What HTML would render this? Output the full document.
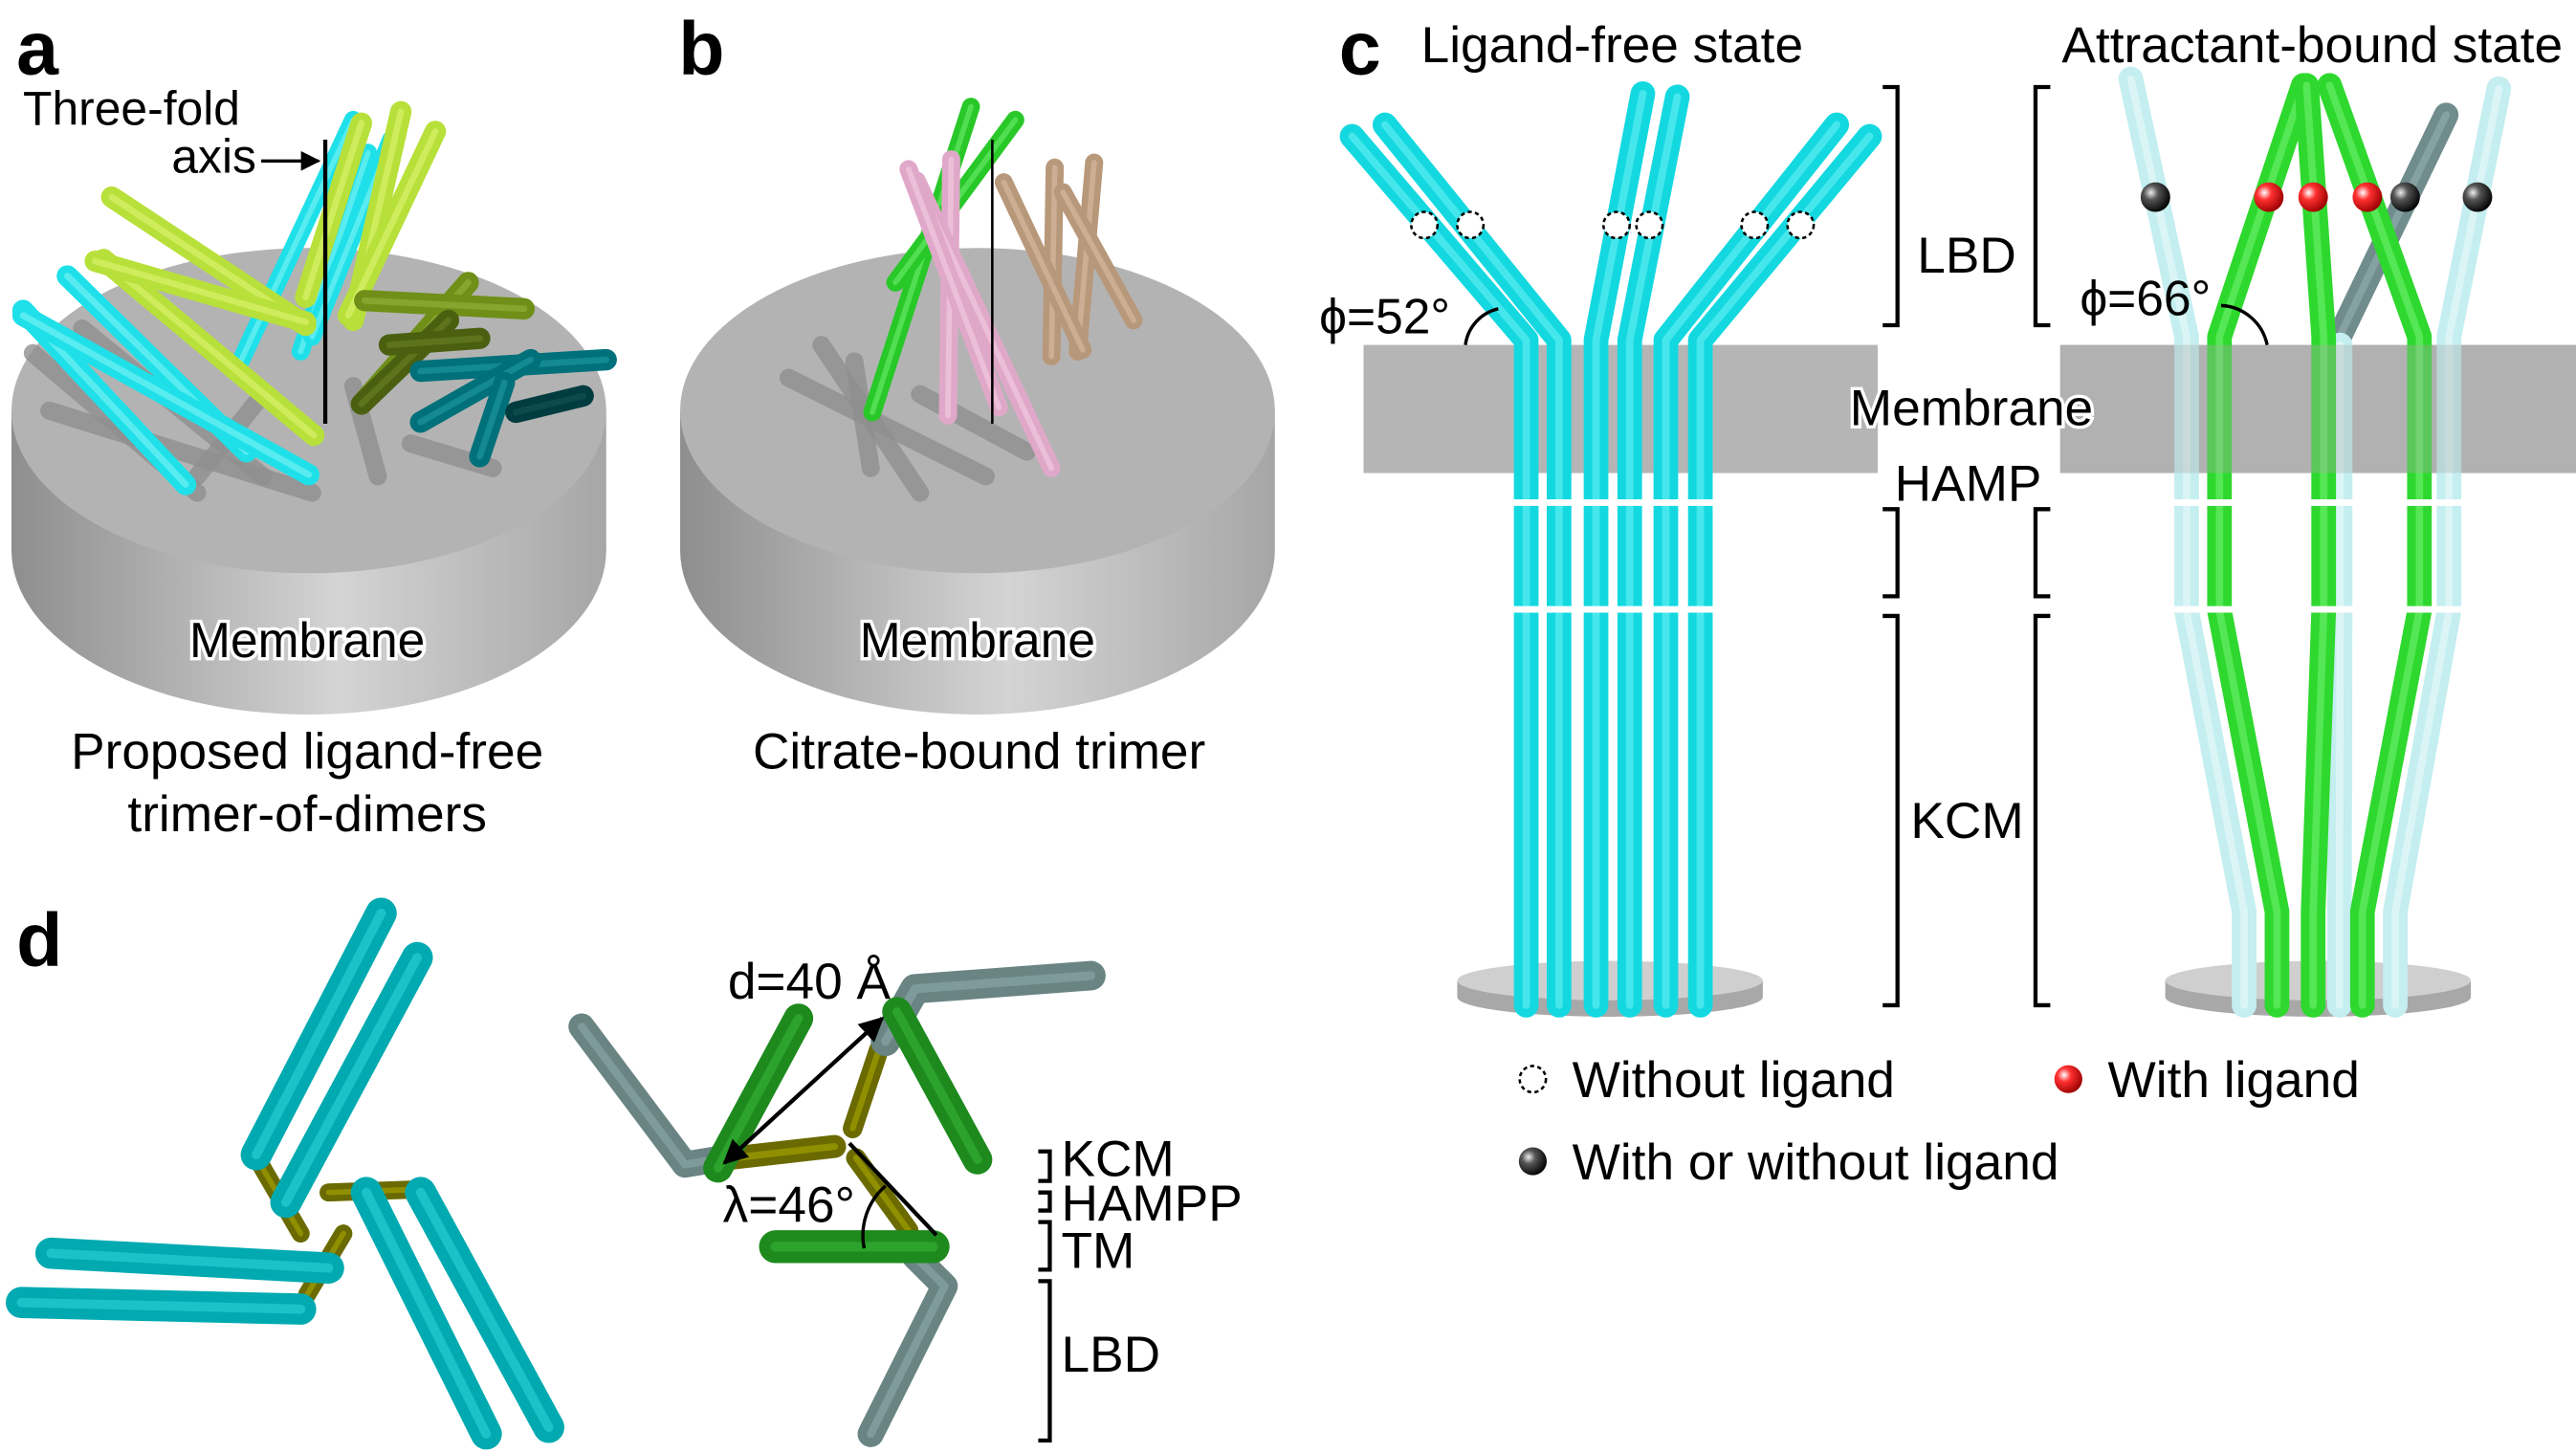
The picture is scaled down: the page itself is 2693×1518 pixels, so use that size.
<!DOCTYPE html>
<html><head><meta charset="utf-8">
<style>
html,body{margin:0;padding:0;background:#fff;}
svg{display:block;}
text{font-family:"Liberation Sans",Arial,sans-serif;fill:#000;}
</style></head>
<body>
<svg id="fig" width="2693" height="1518" viewBox="0 0 1568 884" preserveAspectRatio="none" xmlns="http://www.w3.org/2000/svg">
<defs>
<linearGradient id="side" x1="0" x2="1" y1="0" y2="0">
<stop offset="0" stop-color="#8e8e8e"/><stop offset="0.55" stop-color="#d4d4d4"/><stop offset="1" stop-color="#a6a6a6"/>
</linearGradient>
<radialGradient id="redball" cx="0.35" cy="0.35" r="0.7"><stop offset="0" stop-color="#fff"/><stop offset="0.35" stop-color="#ff3030"/><stop offset="1" stop-color="#900"/></radialGradient>
<radialGradient id="blackball" cx="0.35" cy="0.35" r="0.7"><stop offset="0" stop-color="#eee"/><stop offset="0.35" stop-color="#555"/><stop offset="1" stop-color="#000"/></radialGradient>
<marker id="ah" viewBox="0 0 10 10" refX="9" refY="5" markerWidth="6" markerHeight="6" orient="auto-start-reverse"><path d="M0,0 L10,5 L0,10 z" fill="#000"/></marker>
</defs>

<g>
<ellipse cx="188" cy="335" rx="181" ry="100" fill="url(#side)"/>
<rect x="7" y="250" width="362" height="85" fill="url(#side)"/>
<ellipse cx="188" cy="250" rx="181" ry="99" fill="#b3b3b3"/>
</g>
<g>
<ellipse cx="595" cy="335" rx="181" ry="100" fill="url(#side)"/>
<rect x="414" y="250" width="362" height="85" fill="url(#side)"/>
<ellipse cx="595" cy="250" rx="181" ry="99" fill="#b3b3b3"/>
</g>
<g id="rods"></g>

<rect x="830" y="210" width="313" height="78" fill="#a8a8a8" opacity="0.85"/>
<rect x="1254" y="210" width="314" height="78" fill="#a8a8a8" opacity="0.85"/>
<g id="rods2"></g>

<text x="10" y="45" font-size="46" font-weight="bold">a</text>
<text x="413" y="45" font-size="46" font-weight="bold">b</text>
<text x="815" y="45" font-size="46" font-weight="bold">c</text>
<text x="10" y="588" font-size="46" font-weight="bold">d</text>

<text x="14" y="76" font-size="29">Three-fold</text>
<text x="156" y="105" font-size="29" text-anchor="end">axis</text>
<line x1="159" y1="98" x2="194" y2="98" stroke="#000" stroke-width="2" marker-end="url(#ah)"/>
<line x1="198" y1="85" x2="198" y2="258" stroke="#000" stroke-width="2.5"/>
<line x1="604" y1="85" x2="604" y2="258" stroke="#000" stroke-width="1.5"/>

<text x="187" y="400" font-size="30" text-anchor="middle" stroke="#fff" stroke-width="4" paint-order="stroke">Membrane</text>
<text x="595" y="400" font-size="30" text-anchor="middle" stroke="#fff" stroke-width="4" paint-order="stroke">Membrane</text>
<text x="187" y="468" font-size="31" text-anchor="middle">Proposed ligand-free</text>
<text x="187" y="506" font-size="31" text-anchor="middle">trimer-of-dimers</text>
<text x="596" y="468" font-size="31" text-anchor="middle">Citrate-bound trimer</text>

<text x="865" y="38" font-size="31">Ligand-free state</text>
<text x="1255" y="38" font-size="31">Attractant-bound state</text>
<text x="1167" y="166" font-size="31">LBD</text>
<text x="1200" y="259" font-size="31" text-anchor="middle" stroke="#fff" stroke-width="4" paint-order="stroke">Membrane</text>
<text x="1198" y="305" font-size="31" text-anchor="middle">HAMP</text>
<text x="1163" y="510" font-size="31">KCM</text>
<text x="803" y="203" font-size="30">ϕ=52°</text>
<text x="1266" y="192" font-size="30">ϕ=66°</text>
<path d="M892,210 A26,26 0 0 1 912,188" fill="none" stroke="#000" stroke-width="2"/>
<path d="M1352,186 A30,30 0 0 1 1380,210" fill="none" stroke="#000" stroke-width="2"/>

<g fill="none" stroke="#000" stroke-width="2.5">
<path d="M1146,53 H1155 V198 H1146"/>
<path d="M1146,310 H1155 V363 H1146"/>
<path d="M1146,375 H1155 V612 H1146"/>
<path d="M1248,53 H1239 V198 H1248"/>
<path d="M1248,310 H1239 V363 H1248"/>
<path d="M1248,375 H1239 V612 H1248"/>
<path d="M632,701 H639 V719 H632"/>
<path d="M632,726 H639 V737 H632"/>
<path d="M632,744 H639 V773 H632"/>
<path d="M632,780 H639 V877 H632"/>
</g>
<text x="646" y="716" font-size="31">KCM</text>
<text x="646" y="743" font-size="31">HAMPP</text>
<text x="646" y="772" font-size="31">TM</text>
<text x="646" y="835" font-size="31">LBD</text>
<text x="443" y="608" font-size="31">d=40 Å</text>
<text x="440" y="744" font-size="31">λ=46°</text>

<circle cx="933" cy="657" r="8" fill="#fff" stroke="#000" stroke-width="1.5" stroke-dasharray="2.5,2"/>
<text x="957" y="668" font-size="31">Without ligand</text>
<circle cx="1259" cy="657" r="8.5" fill="url(#redball)"/>
<text x="1283" y="668" font-size="31">With ligand</text>
<circle cx="933" cy="707" r="8.5" fill="url(#blackball)"/>
<text x="957" y="718" font-size="31">With or without ligand</text>

<script>
const NS='http://www.w3.org/2000/svg';
function mk(parent,tag,attrs){const e=document.createElementNS(NS,tag);for(const k in attrs)e.setAttribute(k,attrs[k]);parent.appendChild(e);return e;}
function rod(parent,pts,w,color,hi,name,op){
  const g=mk(parent,'g',{opacity:op||1});
  
  
  const d='M'+pts.map(p=>p.join(',')).join(' L');
  mk(g,'path',{d:d,fill:'none',stroke:color,'stroke-width':w,'stroke-linecap':'round','stroke-linejoin':'round'});
  mk(g,'path',{d:d,fill:'none',stroke:hi,'stroke-width':w*0.3,'stroke-linecap':'round','stroke-linejoin':'round',opacity:0.4});
}
const R=document.getElementById('rods');
const shadows=[[[20,215],[120,300]],[[50,200],[160,290]],[[30,250],[190,300]],[[160,240],[120,290]],[[250,270],[300,285]],[[215,235],[230,290]],[[500,210],[560,300]],[[480,230],[600,290]],[[520,220],[530,285]],[[560,240],[625,275]]];
shadows.forEach(s=>rod(R,s,11,'#8f8f8f','#8f8f8f','helix-shadow',0.8));
const C='#1fe0e8',CH='#b0ffff',Y='#b8e03a',YH='#f0ff90';
[[[41,168],[150,275]],[[14,189],[113,295]],[[14,192],[188,289]]].forEach(p=>rod(R,p,13,C,CH,'helix-cyan'));
[[[215,73],[145,223]],[[224,93],[183,214]],[[238,85],[190,205]]].forEach(p=>rod(R,p,11,C,CH,'helix-cyan'));
[[[68,120],[186,198]],[[63,158],[191,265]],[[58,159],[186,196]],[[244,68],[215,195]],[[265,80],[212,192]],[[220,75],[186,181]]].forEach(p=>rod(R,p,13,Y,YH,'helix-yellow-green'));
[[[285,172],[220,246]],[[222,183],[319,188]]].forEach(p=>rod(R,p,13,'#6f8f18','#a8c850','helix-olive'));
[[[273,195],[220,246]],[[237,210],[292,206]]].forEach(p=>rod(R,p,13,'#4a6010','#7a9030','helix-dark-olive'));
[[[256,226],[369,219]],[[323,219],[256,257]],[[307,233],[292,278]]].forEach(p=>rod(R,p,13,'#00707a','#30b0b8','helix-teal'));
rod(R,[[314,251],[355,241]],13,'#003c40','#206060','helix-dark-teal');
[[[591,65],[531,251]],[[618,73],[545,172]]].forEach(p=>rod(R,p,11,'#28c828','#90ff90','helix-green'));
[[[579,97],[577,253]],[[558,110],[640,285]],[[553,103],[608,248]]].forEach(p=>rod(R,p,11,'#e0a8c8','#ffe0f0','helix-pink'));
[[[642,102],[640,217]],[[666,99],[656,214]],[[611,111],[659,213]],[[647,117],[690,195]]].forEach(p=>rod(R,p,11,'#b8987a','#e8d0b8','helix-tan'));

const R2=document.getElementById('rods2');
[[980,605],[1411,605]].forEach(c=>{
  const g=mk(R2,'g',{});
  
  
  mk(g,'rect',{x:c[0]-93,y:c[1]-8,width:186,height:10,fill:'#a8a8a8'});
  mk(g,'ellipse',{cx:c[0],cy:c[1]+2,rx:93,ry:12,fill:'#a8a8a8'});
  mk(g,'ellipse',{cx:c[0],cy:c[1]-8,rx:93,ry:12,fill:'#cfcfcf'});
});
const leftBottom=[929,949,971.5,992,1014,1035];
const leftTop=[[823,83],[843,76],[1000,57],[1021,59],[1118,76],[1138,83]];
leftBottom.forEach((x,i)=>{
  rod(R2,[leftTop[i],[x,207],[x,612]],15,'#14d8e0','#90ffff','helix-ligand-free');
});
[306,371].forEach(y=>{mk(R2,'rect',{x:915,y:y-2,width:135,height:4,fill:'#fff'});});
[[867,137],[895,137],[984,137],[1004,137],[1068,137],[1096,137]].forEach(p=>{
  const c=mk(R2,'circle',{cx:p[0],cy:p[1],r:8,fill:'#fff',stroke:'#000','stroke-width':1.5,'stroke-dasharray':'2.5,2'});
  
  
});
const LC='#c4eef0',LH='#ffffff',G='#2ed82e',GH='#90ff90';
const rtop=[[1297,48],[1402,52],[1404,52],[1489,70],[1418,52],[1521,54]];
const rmid=[1331,1351,1414.4,1424.4,1472.7,1490.7];
const rbot=[1366,1386,1408,1424,1438,1458];
const rcol=[LC,G,G,'#708c8c',G,LC];
const order=[0,5,3,1,2,4];
order.forEach(i=>{
  const col=rcol[i];
  if(i===3){
    rod(R2,[rtop[3],[1424,205]],15,'#708c8c','#a8c0c0','helix-gray-lbd');
    rod(R2,[[1424.4,210],[1424.4,372],[1424,555],[1424,612]],15,LC,LH,'helix-attractant-light');
    return;
  }
  rod(R2,[rtop[i],[rmid[i],205],[rmid[i],372],[rbot[i],555],[rbot[i],612]],15,col,col===G?GH:LH,col===G?'helix-attractant-green':'helix-attractant-light');
});
mk(R2,'rect',{x:1254,y:210,width:314,height:78,fill:'#a8a8a8',opacity:0.35});
[306,371].forEach(y=>{mk(R2,'rect',{x:1320,y:y-2,width:185,height:4,fill:'#fff'});});
[[1312,120,'blackball'],[1381,120,'redball'],[1408,120,'redball'],[1441,120,'redball'],[1464,120,'blackball'],[1508,120,'blackball']].forEach(p=>{
  const c=mk(R2,'circle',{cx:p[0],cy:p[1],r:9,fill:'url(#'+p[2]+')'});
  
  
});

const T='#00aab0',TH='#40e8ee',O='#6a6a00',OH='#c8c800',GR='#6a8484',GRH='#a0bcbc',DG='#1e8a1e',DGH='#40c840';
[[[158,708],[183,751]],[[209,751],[187,788]],[[200,726],[258,724]]].forEach(p=>rod(R,p,11,O,OH,'helix-olive-d'));
[[[232,556],[156,703]],[[254,583],[174,732]],[[223,726],[296,873]],[[256,726],[334,869]],[[31,763],[200,772]],[[13,793],[183,797]]].forEach(p=>rod(R,p,19,T,TH,'helix-teal-d'));
rod(R,[[446,705],[508,698]],14,O,OH,'helix-olive-d');
rod(R,[[535,639],[519,687]],12,O,OH,'helix-olive-d');
rod(R,[[521,705],[553,749]],12,O,OH,'helix-olive-d');
rod(R,[[354,625],[417,709],[441,705]],16,GR,GRH,'helix-gray-d');
rod(R,[[664,594],[557,602],[539,634]],18,GR,GRH,'helix-gray-d');
rod(R,[[557,765],[575,783],[530,873]],16,GR,GRH,'helix-gray-d');
rod(R,[[486,620],[437,711]],18,DG,DGH,'helix-green-d');
rod(R,[[546,616],[595,706]],18,DG,DGH,'helix-green-d');
rod(R,[[472,759],[568,759]],20,DG,DGH,'helix-green-d');
const ar=mk(R,'line',{x1:441,y1:708,x2:537,y2:620,stroke:'#000','stroke-width':2.5,'marker-start':'url(#ah)','marker-end':'url(#ah)'});


const al=mk(R,'line',{x1:517,y1:696,x2:570,y2:752,stroke:'#000','stroke-width':2.5});


const aa=mk(R,'path',{d:'M526,760 A40,40 0 0 1 539,722',fill:'none',stroke:'#000','stroke-width':2});


</script>
</svg>
</body></html>
